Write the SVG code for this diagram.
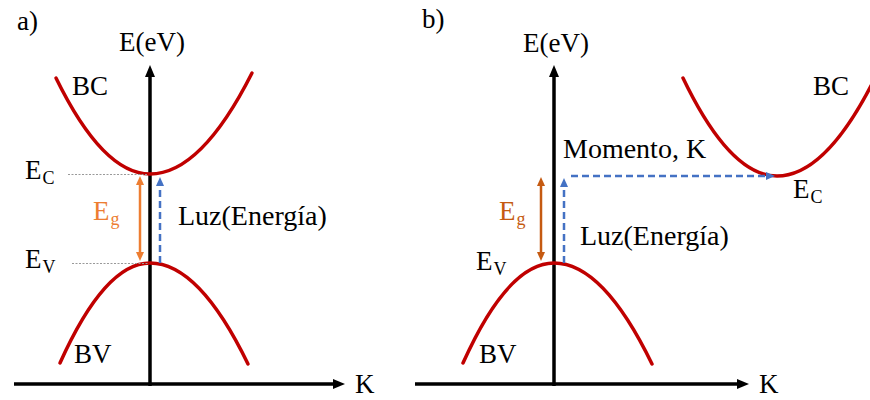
<svg xmlns="http://www.w3.org/2000/svg" width="870" height="400" viewBox="0 0 870 400">
<style>
  text { font-family: "Liberation Serif", "DejaVu Serif", "Times New Roman", serif; fill: #000; font-size: 27px; }
  .sub { font-size: 18px; }
  .band { fill: none; stroke: #c00000; stroke-width: 3.5; stroke-linecap: round; }
  .axis { fill: none; stroke: #000; stroke-width: 3.5; }
  .guide { fill: none; stroke: #999; stroke-width: 1; stroke-dasharray: 2 1.5; }
  .light { fill: none; stroke: #4472c4; stroke-width: 2.5; stroke-dasharray: 7 4; }
  .gapA { fill: none; stroke: #ed7d31; stroke-width: 2.5; }
  .gapB { fill: none; stroke: #c55a11; stroke-width: 2.5; }
</style>
<defs>
  <marker id="axArrow" markerUnits="userSpaceOnUse" viewBox="0 0 12 10" markerWidth="12" markerHeight="10" refX="1" refY="5" orient="auto">
    <path d="M0,0 L12,5 L0,10 z" fill="#000"/>
  </marker>
  <marker id="blueArrow" markerUnits="userSpaceOnUse" viewBox="0 0 9 8" markerWidth="9" markerHeight="8" refX="1" refY="4" orient="auto">
    <path d="M0,0 L9,4 L0,8 z" fill="#4472c4"/>
  </marker>
  <marker id="orangeA" markerUnits="userSpaceOnUse" viewBox="0 0 9 8" markerWidth="9" markerHeight="8" refX="1" refY="4" orient="auto-start-reverse">
    <path d="M0,0 L9,4 L0,8 z" fill="#ed7d31"/>
  </marker>
  <marker id="orangeB" markerUnits="userSpaceOnUse" viewBox="0 0 9 8" markerWidth="9" markerHeight="8" refX="1" refY="4" orient="auto-start-reverse">
    <path d="M0,0 L9,4 L0,8 z" fill="#c55a11"/>
  </marker>
</defs>

<!-- Panel a -->
<g id="panel-a-label"><text x="17" y="30">a)</text></g>
<g id="a-axes">
  <line class="axis" x1="150" y1="386" x2="150" y2="76" marker-end="url(#axArrow)"/>
  <line class="axis" x1="14" y1="384" x2="334" y2="384" marker-end="url(#axArrow)"/>
  <text x="152" y="51" text-anchor="middle">E(eV)</text>
  <text x="355" y="393">K</text>
</g>
<g id="a-BC">
  <path class="band" d="M56,78 Q103,174 150,174 Q201,174 252,73"/>
  <text x="72" y="95">BC</text>
</g>
<g id="a-BV">
  <path class="band" d="M60,363 Q105,263 150,263 Q199,263 248,364"/>
  <text x="74" y="363">BV</text>
</g>
<g id="a-EC">
  <line class="guide" x1="68" y1="174.5" x2="148" y2="174.5"/>
  <text x="25" y="179">E<tspan class="sub" dx="1" dy="5">C</tspan></text>
</g>
<g id="a-EV">
  <line class="guide" x1="72" y1="263.5" x2="148" y2="263.5"/>
  <text x="25" y="268">E<tspan class="sub" dx="1" dy="5">V</tspan></text>
</g>
<g id="a-Eg">
  <line class="gapA" x1="140" y1="184" x2="140" y2="253" marker-start="url(#orangeA)" marker-end="url(#orangeA)"/>
  <text x="93" y="220" style="fill:#ed7d31">E<tspan class="sub" dx="1" dy="5" style="fill:#ed7d31">g</tspan></text>
</g>
<g id="a-light">
  <line class="light" x1="160" y1="263" x2="160" y2="185" marker-end="url(#blueArrow)"/>
  <text x="178" y="225" style="font-size:28px">Luz(Energía)</text>
</g>

<!-- Panel b -->
<g id="panel-b-label"><text x="422" y="28">b)</text></g>
<g id="b-axes">
  <line class="axis" x1="554" y1="386" x2="554" y2="76" marker-end="url(#axArrow)"/>
  <line class="axis" x1="415" y1="384" x2="738" y2="384" marker-end="url(#axArrow)"/>
  <text x="556" y="52" text-anchor="middle">E(eV)</text>
  <text x="759" y="393">K</text>
</g>
<g id="b-BC">
  <path class="band" d="M683,78 Q730,176 777,176 Q826,176 875,78"/>
  <text x="813" y="95">BC</text>
</g>
<g id="b-BV">
  <path class="band" d="M463,363 Q508,263 554,263 Q603,263 652,364"/>
  <text x="479" y="363">BV</text>
</g>
<g id="b-EC">
  <text x="793" y="198">E<tspan class="sub" dx="1" dy="5">C</tspan></text>
</g>
<g id="b-EV">
  <text x="476" y="270">E<tspan class="sub" dx="1" dy="5">V</tspan></text>
</g>
<g id="b-Eg">
  <line class="gapB" x1="541" y1="185" x2="541" y2="253" marker-start="url(#orangeB)" marker-end="url(#orangeB)"/>
  <text x="499" y="220" style="fill:#c55a11">E<tspan class="sub" dx="1" dy="5" style="fill:#c55a11">g</tspan></text>
</g>
<g id="connectors">
  <line class="light" x1="564" y1="263" x2="564" y2="186" marker-end="url(#blueArrow)"/>
  <line class="light" x1="571" y1="176" x2="767" y2="176" marker-end="url(#blueArrow)"/>
</g>
<g id="b-labels">
  <text x="563" y="158" style="font-size:28px">Momento, K</text>
  <text x="580" y="245" style="font-size:28px">Luz(Energía)</text>
</g>
</svg>
